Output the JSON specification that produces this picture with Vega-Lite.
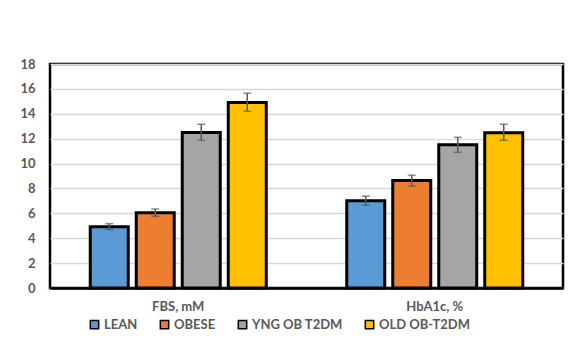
{
  "$schema": "https://vega.github.io/schema/vega-lite/v6.json",
  "width": 513,
  "height": 224,
  "autosize": {"type": "none"},
  "padding": {"left": 50, "top": 64, "right": 15, "bottom": 50},
  "background": "white",
  "config": {
    "view": {"stroke": "black", "strokeWidth": 2.5},
    "font": "Lato",
    "axisY": {
      "title": null,
      "labelOverlap": false,
      "domain": false,
      "ticks": false,
      "labelPadding": 15,
      "labelFont": "Lato",
      "labelFontSize": 13,
      "labelFontWeight": "bold",
      "labelColor": "#595959",
      "gridColor": "#d9d9d9",
      "gridWidth": 1.5
    }
  },
  "data": {
    "values": [
      {"measure": "FBS, mM", "group": "LEAN", "mean": 4.93, "lo": 4.69, "hi": 5.17},
      {"measure": "FBS, mM", "group": "OBESE", "mean": 6.05, "lo": 5.75, "hi": 6.35},
      {"measure": "FBS, mM", "group": "YNG OB T2DM", "mean": 12.5, "lo": 11.87, "hi": 13.16},
      {"measure": "FBS, mM", "group": "OLD OB-T2DM", "mean": 14.9, "lo": 14.2, "hi": 15.65},
      {"measure": "HbA1c, %", "group": "LEAN", "mean": 7.02, "lo": 6.66, "hi": 7.38},
      {"measure": "HbA1c, %", "group": "OBESE", "mean": 8.63, "lo": 8.19, "hi": 9.07},
      {"measure": "HbA1c, %", "group": "YNG OB T2DM", "mean": 11.52, "lo": 10.9, "hi": 12.11},
      {"measure": "HbA1c, %", "group": "OLD OB-T2DM", "mean": 12.48, "lo": 11.87, "hi": 13.16}
    ]
  },
  "encoding": {
    "x": {
      "field": "measure",
      "type": "nominal",
      "sort": ["FBS, mM", "HbA1c, %"],
      "scale": {"paddingInner": 0, "paddingOuter": 0},
      "axis": {
        "title": null,
        "labelAngle": 0,
        "domain": true,
        "domainColor": "black",
        "domainWidth": 2.5,
        "ticks": false,
        "labelPadding": 12,
        "labelFont": "Lato",
        "labelFontSize": 13,
        "labelFontWeight": "bold",
        "labelColor": "#595959",
        "zindex": 1
      }
    },
    "xOffset": {
      "field": "group",
      "type": "nominal",
      "sort": ["LEAN", "OBESE", "YNG OB T2DM", "OLD OB-T2DM"],
      "scale": {"paddingInner": 0.174, "paddingOuter": 0.875}
    }
  },
  "layer": [
    {
      "mark": {"type": "bar", "stroke": "black", "strokeWidth": 3},
      "encoding": {
        "y": {
          "field": "mean",
          "type": "quantitative",
          "scale": {"domain": [0, 18], "nice": false},
          "axis": {"values": [0, 2, 4, 6, 8, 10, 12, 14, 16, 18], "title": null}
        },
        "color": {
          "field": "group",
          "type": "nominal",
          "sort": ["LEAN", "OBESE", "YNG OB T2DM", "OLD OB-T2DM"],
          "scale": {
            "domain": ["LEAN", "OBESE", "YNG OB T2DM", "OLD OB-T2DM"],
            "range": ["#5B9BD5", "#ED7D31", "#A5A5A5", "#FFC000"]
          },
          "legend": {
            "orient": "none",
            "legendX": 38,
            "legendY": 254,
            "direction": "horizontal",
            "columns": 4,
            "title": null,
            "symbolType": "square",
            "symbolSize": 70,
            "symbolStrokeColor": "black",
            "symbolStrokeWidth": 1.5,
            "symbolOpacity": 1,
            "labelFont": "Lato",
            "labelFontSize": 13,
            "labelFontWeight": "bold",
            "labelColor": "#595959",
            "labelOffset": 3,
            "columnPadding": 19,
            "encode": {
              "symbols": {"update": {"stroke": {"value": "black"}, "strokeWidth": {"value": 1.5}}}
            }
          }
        }
      }
    },
    {
      "mark": {"type": "rule", "color": "#595959", "strokeWidth": 1.5},
      "encoding": {
        "y": {"field": "lo", "type": "quantitative", "axis": {"values": [0, 2, 4, 6, 8, 10, 12, 14, 16, 18], "title": null}},
        "y2": {"field": "hi"}
      }
    },
    {
      "mark": {"type": "tick", "color": "#595959", "thickness": 1.5, "size": 8, "orient": "horizontal"},
      "encoding": {
        "y": {"field": "lo", "type": "quantitative", "axis": {"values": [0, 2, 4, 6, 8, 10, 12, 14, 16, 18], "title": null}}
      }
    },
    {
      "mark": {"type": "tick", "color": "#595959", "thickness": 1.5, "size": 8, "orient": "horizontal"},
      "encoding": {
        "y": {"field": "hi", "type": "quantitative", "axis": {"values": [0, 2, 4, 6, 8, 10, 12, 14, 16, 18], "title": null}}
      }
    }
  ]
}
